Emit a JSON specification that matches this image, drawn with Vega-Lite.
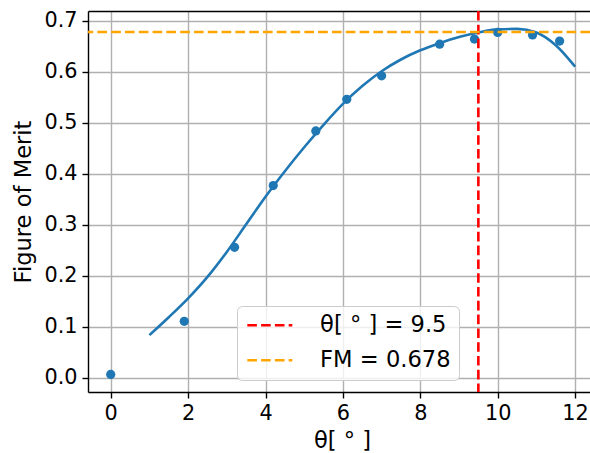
{
  "$schema": "https://vega.github.io/schema/vega-lite/v6.json",
  "width": 502,
  "height": 381,
  "autosize": {"type": "none"},
  "padding": {"left": 88, "top": 11, "right": 0, "bottom": 61},
  "background": "white",
  "config": {
    "font": "DejaVu Sans",
    "view": {"stroke": null},
    "axis": {
      "domainColor": "#000",
      "domainWidth": 1.4,
      "tickColor": "#000",
      "tickWidth": 1.4,
      "tickSize": 6,
      "labelFont": "DejaVu Sans",
      "labelFontSize": 20.8,
      "labelColor": "#000",
      "titleFont": "DejaVu Sans",
      "titleFontSize": 22.6,
      "titleFontWeight": "normal",
      "titleColor": "#000",
      "gridColor": "#b0b0b0",
      "gridWidth": 1.4,
      "gridOpacity": 1,
      "labelPadding": 5
    }
  },
  "datasets": {
    "points": [
      {"theta": 0.0, "fm": 0.007},
      {"theta": 1.9, "fm": 0.111},
      {"theta": 3.2, "fm": 0.256},
      {"theta": 4.2, "fm": 0.377},
      {"theta": 5.3, "fm": 0.484},
      {"theta": 6.1, "fm": 0.546},
      {"theta": 7.0, "fm": 0.592},
      {"theta": 8.5, "fm": 0.654},
      {"theta": 9.4, "fm": 0.664},
      {"theta": 10.0, "fm": 0.677},
      {"theta": 10.9, "fm": 0.672},
      {"theta": 11.6, "fm": 0.660}
    ],
    "curve": [
      {"theta": 1.0, "fm": 0.084},
      {"theta": 1.5, "fm": 0.119},
      {"theta": 2.0, "fm": 0.156},
      {"theta": 2.5, "fm": 0.198},
      {"theta": 3.0, "fm": 0.247},
      {"theta": 3.5, "fm": 0.301},
      {"theta": 4.0, "fm": 0.355},
      {"theta": 4.5, "fm": 0.405},
      {"theta": 5.0, "fm": 0.452},
      {"theta": 5.5, "fm": 0.496},
      {"theta": 6.0, "fm": 0.537},
      {"theta": 6.5, "fm": 0.572},
      {"theta": 7.0, "fm": 0.601},
      {"theta": 7.5, "fm": 0.624},
      {"theta": 8.0, "fm": 0.642},
      {"theta": 8.5, "fm": 0.656},
      {"theta": 9.0, "fm": 0.668},
      {"theta": 9.5, "fm": 0.677},
      {"theta": 10.0, "fm": 0.683},
      {"theta": 10.5, "fm": 0.684},
      {"theta": 11.0, "fm": 0.677},
      {"theta": 11.5, "fm": 0.652},
      {"theta": 12.0, "fm": 0.610}
    ],
    "vline": [{"theta": 9.5, "label": "θ[ ° ] = 9.5"}],
    "hline": [{"fm": 0.678, "label": "FM = 0.678"}]
  },
  "resolve": {"axis": {"x": "independent"}},
  "layer": [
    {
      "data": {"name": "points"},
      "mark": {"type": "circle", "size": 85, "color": "#1f77b4", "opacity": 1},
      "encoding": {
        "x": {
          "field": "theta",
          "type": "quantitative",
          "scale": {"domain": [-0.587, 12.385], "nice": false, "zero": false},
          "axis": {"values": [0, 2, 4, 6, 8, 10, 12], "title": "θ[ ° ]", "grid": true, "titlePadding": 7, "titleX": 254}
        },
        "y": {
          "field": "fm",
          "type": "quantitative",
          "scale": {"domain": [-0.0275, 0.719], "nice": false, "zero": false},
          "axis": {"values": [0, 0.1, 0.2, 0.3, 0.4, 0.5, 0.6, 0.7], "format": ".1f", "title": "Figure of Merit", "grid": true, "titlePadding": 8}
        }
      }
    },
    {
      "data": {"name": "curve"},
      "mark": {"type": "line", "color": "#1f77b4", "strokeWidth": 2.6, "interpolate": "monotone"},
      "encoding": {
        "x": {
          "field": "theta",
          "type": "quantitative",
          "scale": {"domain": [-0.587, 12.385], "nice": false, "zero": false},
          "axis": {"orient": "top", "labels": false, "ticks": false, "grid": false, "title": null, "domain": true}
        },
        "y": {"field": "fm", "type": "quantitative"}
      }
    },
    {
      "data": {"name": "vline"},
      "mark": {"type": "rule", "strokeDash": [9.6, 4.2], "strokeWidth": 2.6},
      "encoding": {
        "x": {"field": "theta", "type": "quantitative", "axis": null},
        "color": {
          "field": "label",
          "type": "nominal",
          "scale": {"domain": ["θ[ ° ] = 9.5", "FM = 0.678"], "range": ["#ff0000", "#ffa500"]},
          "legend": {
            "orient": "none",
            "legendX": 149,
            "legendY": 295,
            "title": null,
            "symbolType": "M-2.5,0H2.5",
            "symbolSize": 324,
            "symbolOffset": 13.5,
            "symbolStrokeWidth": 2.6,
            "symbolDash": [9.6, 4.2],
            "labelFontSize": 22.6,
            "labelFont": "DejaVu Sans",
            "labelColor": "#000",
            "labelOffset": 39,
            "padding": 8,
            "rowPadding": 12,
            "fillColor": "rgba(255,255,255,0.8)",
            "strokeColor": "#cccccc",
            "cornerRadius": 5,
            "labelLimit": 300
          }
        }
      }
    },
    {
      "data": {"name": "hline"},
      "mark": {"type": "rule", "strokeDash": [9.6, 4.2], "strokeWidth": 2.6},
      "encoding": {
        "y": {"field": "fm", "type": "quantitative"},
        "color": {"field": "label", "type": "nominal"}
      }
    }
  ]
}
